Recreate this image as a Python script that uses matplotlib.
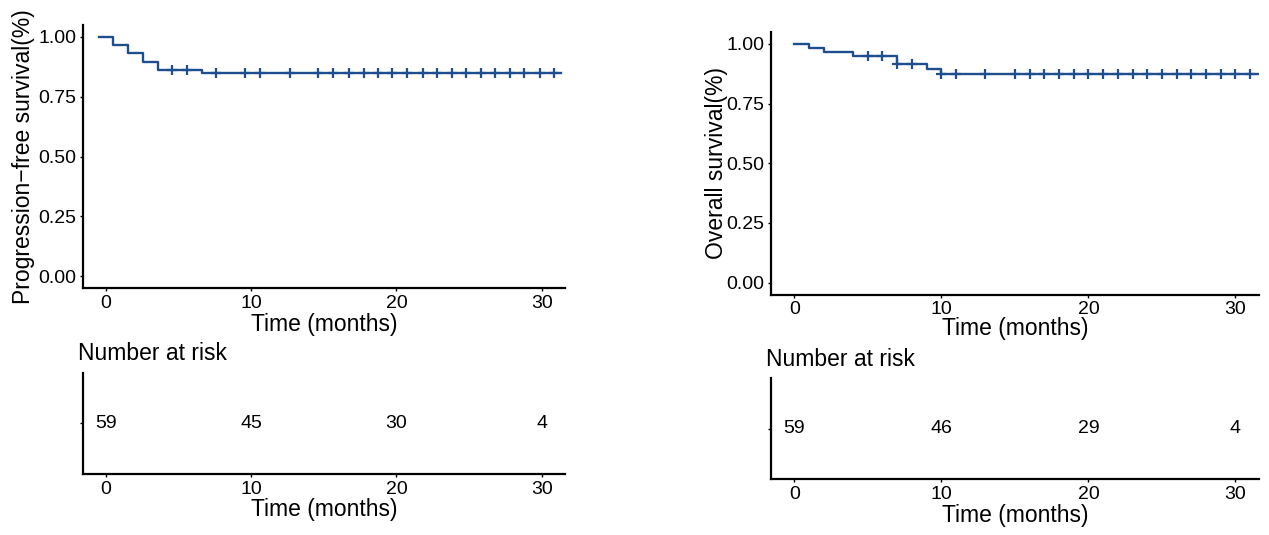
import numpy as np
import matplotlib
matplotlib.use("Agg")
import matplotlib.pyplot as plt

plt.rcParams['font.family'] = ['Liberation Sans', 'DejaVu Sans']

# Kaplan-Meier step data
pfs_times = [-0.45, 0.5, 1.55, 2.55, 3.55, 6.6]
pfs_surv = [1.0, 0.965, 0.931, 0.897, 0.862, 0.848]
pfs_end = 31.35
pfs_censor = [4.55, 5.6, 7.55, 9.6, 10.6, 12.65, 14.6, 15.65, 16.7, 17.75, 18.7,
              19.7, 20.75, 21.8, 22.8, 23.8, 24.8, 25.8, 26.8, 27.8, 28.8, 29.85, 30.85]

os_times = [0, 1, 2, 4, 7, 9, 10]
os_surv = [1.0, 0.983, 0.966, 0.951, 0.917, 0.893, 0.876]
os_end = 31.5
os_censor = [5, 6, 7, 8, 10, 11, 13, 15, 16, 17, 18, 19, 20, 21, 22, 23, 24,
             25, 26, 27, 28, 29, 30, 31]

risk_times = [0, 10, 20, 30]
pfs_risk = [59, 45, 30, 4]
os_risk = [59, 46, 29, 4]

color = '#1f4e8f'
W, H = 1269, 535


def box(x0, y0, x1, y1):
    # pixel box (top-left origin) -> figure fraction rect
    return [x0 / W, 1 - y1 / H, (x1 - x0) / W, (y1 - y0) / H]


def style(ax):
    for s in ['top', 'right']:
        ax.spines[s].set_visible(False)
    for s in ['left', 'bottom']:
        ax.spines[s].set_linewidth(1.6)
    ax.tick_params(labelsize=14, length=2.5, width=1, pad=2.5, colors='black')
    ax.set_xlim(-1.58, 31.6)
    ax.set_xticks([0, 10, 20, 30])


def km(ax, times, surv, end, censor, ylabel):
    t = list(times) + [end]
    s = list(surv) + [surv[-1]]
    ax.step(t, s, where='post', color=color, lw=1.7)
    idx = np.searchsorted(times, censor, side='right') - 1
    ax.plot(censor, np.array(surv)[idx], '+', color=color, ms=6.5, mew=1.6)
    style(ax)
    ax.set_ylim(-0.05, 1.05)
    ax.set_yticks([0, 0.25, 0.5, 0.75, 1.0])
    ax.set_yticklabels(['0.00', '0.25', '0.50', '0.75', '1.00'])
    ax.set_xlabel('Time (months)', fontsize=16.5)
    ax.set_ylabel(ylabel, fontsize=16.5)


def risk(ax, counts):
    for t, n in zip(risk_times, counts):
        ax.text(t, 1, str(n), ha='center', va='center', fontsize=14)
    style(ax)
    ax.set_ylim(0, 2)
    ax.set_yticks([1])
    ax.set_yticklabels([''])
    ax.set_xlabel('Time (months)', fontsize=16.5)


fig = plt.figure(figsize=(W / 100, H / 100), dpi=100)

ax1 = fig.add_axes(box(83, 25, 565, 288))
km(ax1, pfs_times, pfs_surv, pfs_end, pfs_censor, 'Progression\u2212free survival(%)')
ax1.xaxis.set_label_coords(0.5, -0.095)
ax1.yaxis.set_label_coords(-0.1, 0.5)

ax2 = fig.add_axes(box(771, 32, 1259, 294.5))
km(ax2, os_times, os_surv, os_end, os_censor, 'Overall survival(%)')
ax2.xaxis.set_label_coords(0.5, -0.085)
ax2.yaxis.set_label_coords(-0.088, 0.5)

ax3 = fig.add_axes(box(83, 372.5, 565, 474))
risk(ax3, pfs_risk)
ax3.xaxis.set_label_coords(0.5, -0.24)

ax4 = fig.add_axes(box(771, 378, 1259, 479))
risk(ax4, os_risk)
ax4.xaxis.set_label_coords(0.5, -0.25)

fig.text(78 / W, 1 - 353 / H, 'Number at risk', fontsize=16.5, ha='left', va='center')
fig.text(766 / W, 1 - 360 / H, 'Number at risk', fontsize=16.5, ha='left', va='center')

fig.savefig('out.png', dpi=100)
